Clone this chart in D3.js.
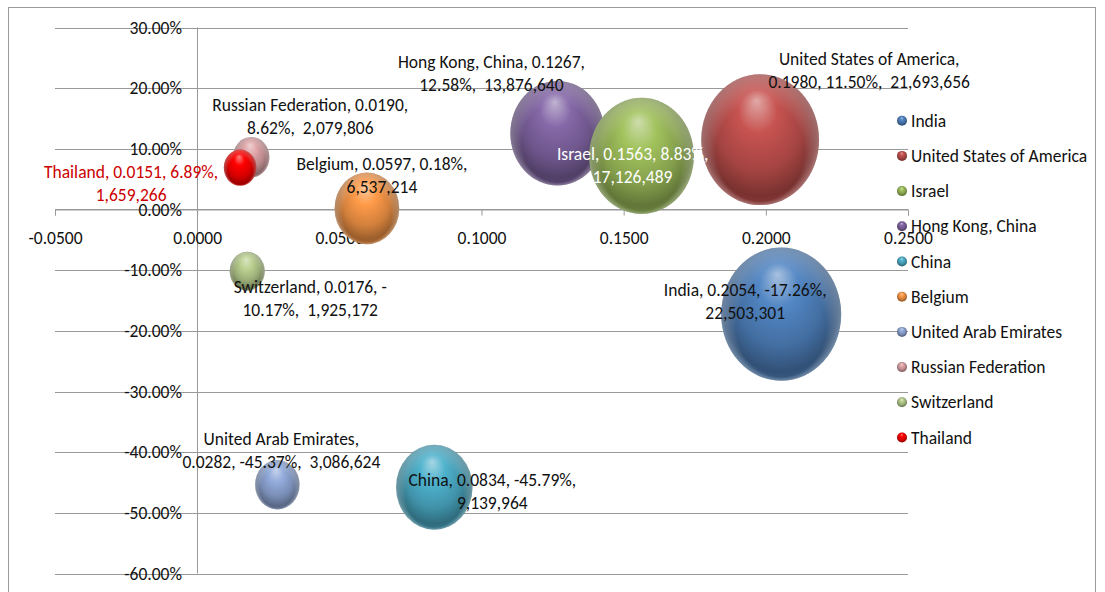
<!DOCTYPE html>
<html>
<head>
<meta charset="utf-8">
<script src="https://cdn.jsdelivr.net/npm/d3@7"></script>
<style>
  body { margin: 0; background: #fff; }
  text { font-family: "Carlito", "Lato", "Liberation Sans Narrow", sans-serif; font-size: 17.5px; fill: #111; }
</style>
</head>
<body>
<div class="bubble-chart"></div>
<script>
// data
let countries = ["India", "United States of America", "Israel", "Hong Kong, China", "China",
    "Belgium", "United Arab Emirates", "Russian Federation", "Switzerland", "Thailand"];
let xValues = [0.2054, 0.1980, 0.1563, 0.1267, 0.0834, 0.0597, 0.0282, 0.0190, 0.0176, 0.0151];
let yValues = [-0.1726, 0.1150, 0.0883, 0.1258, -0.4579, 0.0018, -0.4537, 0.0862, -0.1017, 0.0689];
let sizes = [22503301, 21693656, 17126489, 13876640, 9139964, 6537214, 3086624, 2079806, 1925172, 1659266];
let colors = ["#4F81BD", "#C0504D", "#9BBB59", "#8064A2", "#4BACC6",
    "#F79646", "#8EA6D4", "#D9A0A3", "#B5CA8C", "#FF0000"];

// label layout (offset of first line from bubble centre, commas kept on line 1, text colour)
let labelDx = [-36, 109, -9, -66, 58, 15, 4, 59, 63, -109];
let labelDy = [-24, -81, -2, -71, -7, -45, -46, -52, 16, 4];
let labelBreak = [3, 1, 3, 3, 3, 3, 1, 2, 2, 3];
let labelColor = ["#111", "#111", "#fff", "#111", "#111", "#111", "#111", "#111", "#111", "#CC0000"];
// hong kong sits under israel
let drawOrder = [3, 0, 1, 2, 4, 5, 6, 7, 8, 9];

let W = 1105, H = 592;
let fmt = d3.formatLocale({ decimal: ".", thousands: ",", grouping: [3], currency: ["", ""], minus: "-" });
let fx = fmt.format(".4f"), fy = fmt.format(".2%"), fs = fmt.format(",");

let svg = d3.select(".bubble-chart")
    .append("svg")
    .attr("width", W)
    .attr("height", H);

svg.append("rect").attr("width", W).attr("height", H).attr("fill", "#fff");
// chart border
svg.append("rect")
    .attr("x", 8.5).attr("y", 7.5)
    .attr("width", 1087).attr("height", 620)
    .attr("fill", "none").attr("stroke", "#9a9a9a");

let x = d3.scaleLinear().domain([-0.05, 0.25]).range([55, 908]);
let y = d3.scaleLinear().domain([-0.6, 0.3]).range([573.5, 27.5]);
let r = d3.scaleSqrt().domain([0, d3.max(sizes)]).range([0, 60]);

// gradients for the 3d bubbles
let defs = svg.append("defs");
colors.forEach(function (c, i) {
    let base = d3.color(c);
    let g = defs.append("radialGradient")
        .attr("id", "ball" + i)
        .attr("cx", "50%").attr("cy", "48%").attr("r", "55%")
        .attr("fx", "47%").attr("fy", "20%");
    g.append("stop").attr("offset", "0%").attr("stop-color", d3.interpolateRgb(c, "#fff")(0.5));
    g.append("stop").attr("offset", "30%").attr("stop-color", base.brighter(0.1));
    g.append("stop").attr("offset", "65%").attr("stop-color", base.darker(0.45));
    g.append("stop").attr("offset", "88%").attr("stop-color", base.darker(1.3));
    g.append("stop").attr("offset", "100%").attr("stop-color", base.darker(0.9));
});
// soft reflected light on the bottom rim
let rim = defs.append("radialGradient")
    .attr("id", "rim")
    .attr("cx", "50%").attr("cy", "50%").attr("r", "50%")
    .attr("fx", "50%").attr("fy", "88%");
rim.append("stop").attr("offset", "75%").attr("stop-color", "#fff").attr("stop-opacity", 0);
rim.append("stop").attr("offset", "100%").attr("stop-color", "#fff").attr("stop-opacity", 0.3);

// horizontal gridlines
svg.append("g")
    .selectAll("line")
    .data(y.ticks(9))
    .enter().append("line")
    .attr("x1", x(-0.05)).attr("x2", x(0.25))
    .attr("y1", function (d) { return Math.round(y(d)) + 0.5; })
    .attr("y2", function (d) { return Math.round(y(d)) + 0.5; })
    .attr("stroke", "#999");

// vertical axis line at x = 0
svg.append("line")
    .attr("x1", Math.round(x(0)) + 0.5).attr("x2", Math.round(x(0)) + 0.5)
    .attr("y1", y(0.3)).attr("y2", y(-0.6))
    .attr("stroke", "#999");

// x axis sits on the 0% line
let xAxis = svg.append("g")
    .attr("transform", "translate(0," + (Math.round(y(0)) + 0.5) + ")")
    .call(d3.axisBottom(x).ticks(6).tickFormat(fx).tickSize(6).tickPadding(16));
xAxis.attr("font-size", null).attr("font-family", null);
xAxis.select(".domain").attr("stroke", "#999");
xAxis.selectAll(".tick line").attr("stroke", "#999");
xAxis.selectAll("text").attr("fill", "#111");

// y tick labels sit on the gridlines
svg.append("g")
    .selectAll("text")
    .data(y.ticks(9))
    .enter().append("text")
    .attr("x", 182)
    .attr("y", function (d) { return y(d); })
    .attr("dy", "0.35em")
    .attr("text-anchor", "end")
    .text(function (d) { return fy(d); });

// bubbles
let bubbles = svg.append("g")
    .selectAll("g")
    .data(drawOrder)
    .enter().append("g");
bubbles.append("ellipse")
    .attr("cx", function (i) { return x(xValues[i]); })
    .attr("cy", function (i) { return y(yValues[i]); })
    .attr("rx", function (i) { return r(sizes[i]); })
    .attr("ry", function (i) { return r(sizes[i]) * 1.11; })
    .attr("fill", function (i) { return "url(#ball" + i + ")"; });
bubbles.append("ellipse")
    .attr("cx", function (i) { return x(xValues[i]); })
    .attr("cy", function (i) { return y(yValues[i]); })
    .attr("rx", function (i) { return r(sizes[i]); })
    .attr("ry", function (i) { return r(sizes[i]) * 1.11; })
    .attr("fill", "url(#rim)");

// data labels, wrapped after the n-th comma
function labelLines(i) {
    let full = countries[i] + ", " + fx(xValues[i]) + ", " + fy(yValues[i]) + ",  " + fs(sizes[i]);
    let pos = -1;
    for (let k = 0; k < labelBreak[i]; k++) pos = full.indexOf(",", pos + 1);
    let line1 = full.slice(0, pos + 1);
    let line2 = full.slice(pos + 1).trim();
    if (line2[0] == "-") {
        line1 += " -";
        line2 = line2.slice(1);
    }
    return [line1, line2];
}

let labels = svg.append("g")
    .selectAll("text")
    .data(drawOrder)
    .enter().append("text")
    .attr("text-anchor", "middle")
    .style("fill", function (i) { return labelColor[i]; })
    .attr("transform", function (i) {
        return "translate(" + (x(xValues[i]) + labelDx[i]) + "," + (y(yValues[i]) + labelDy[i]) + ")";
    });
labels.selectAll("tspan")
    .data(function (i) { return labelLines(i); })
    .enter().append("tspan")
    .attr("x", 0)
    .attr("y", function (d, k) { return k * 23; })
    .attr("dy", "0.35em")
    .style("white-space", "pre")
    .text(function (d) { return d; });

// legend
let legend = svg.append("g")
    .selectAll("g")
    .data(countries)
    .enter().append("g")
    .attr("transform", function (d, i) { return "translate(902," + (120.7 + i * 35.2) + ")"; });
legend.append("circle")
    .attr("r", 5)
    .attr("fill", function (d, i) { return "url(#ball" + i + ")"; });
legend.append("text")
    .attr("x", 9)
    .attr("dy", "0.35em")
    .text(function (d) { return d; });
</script>
</body>
</html>
